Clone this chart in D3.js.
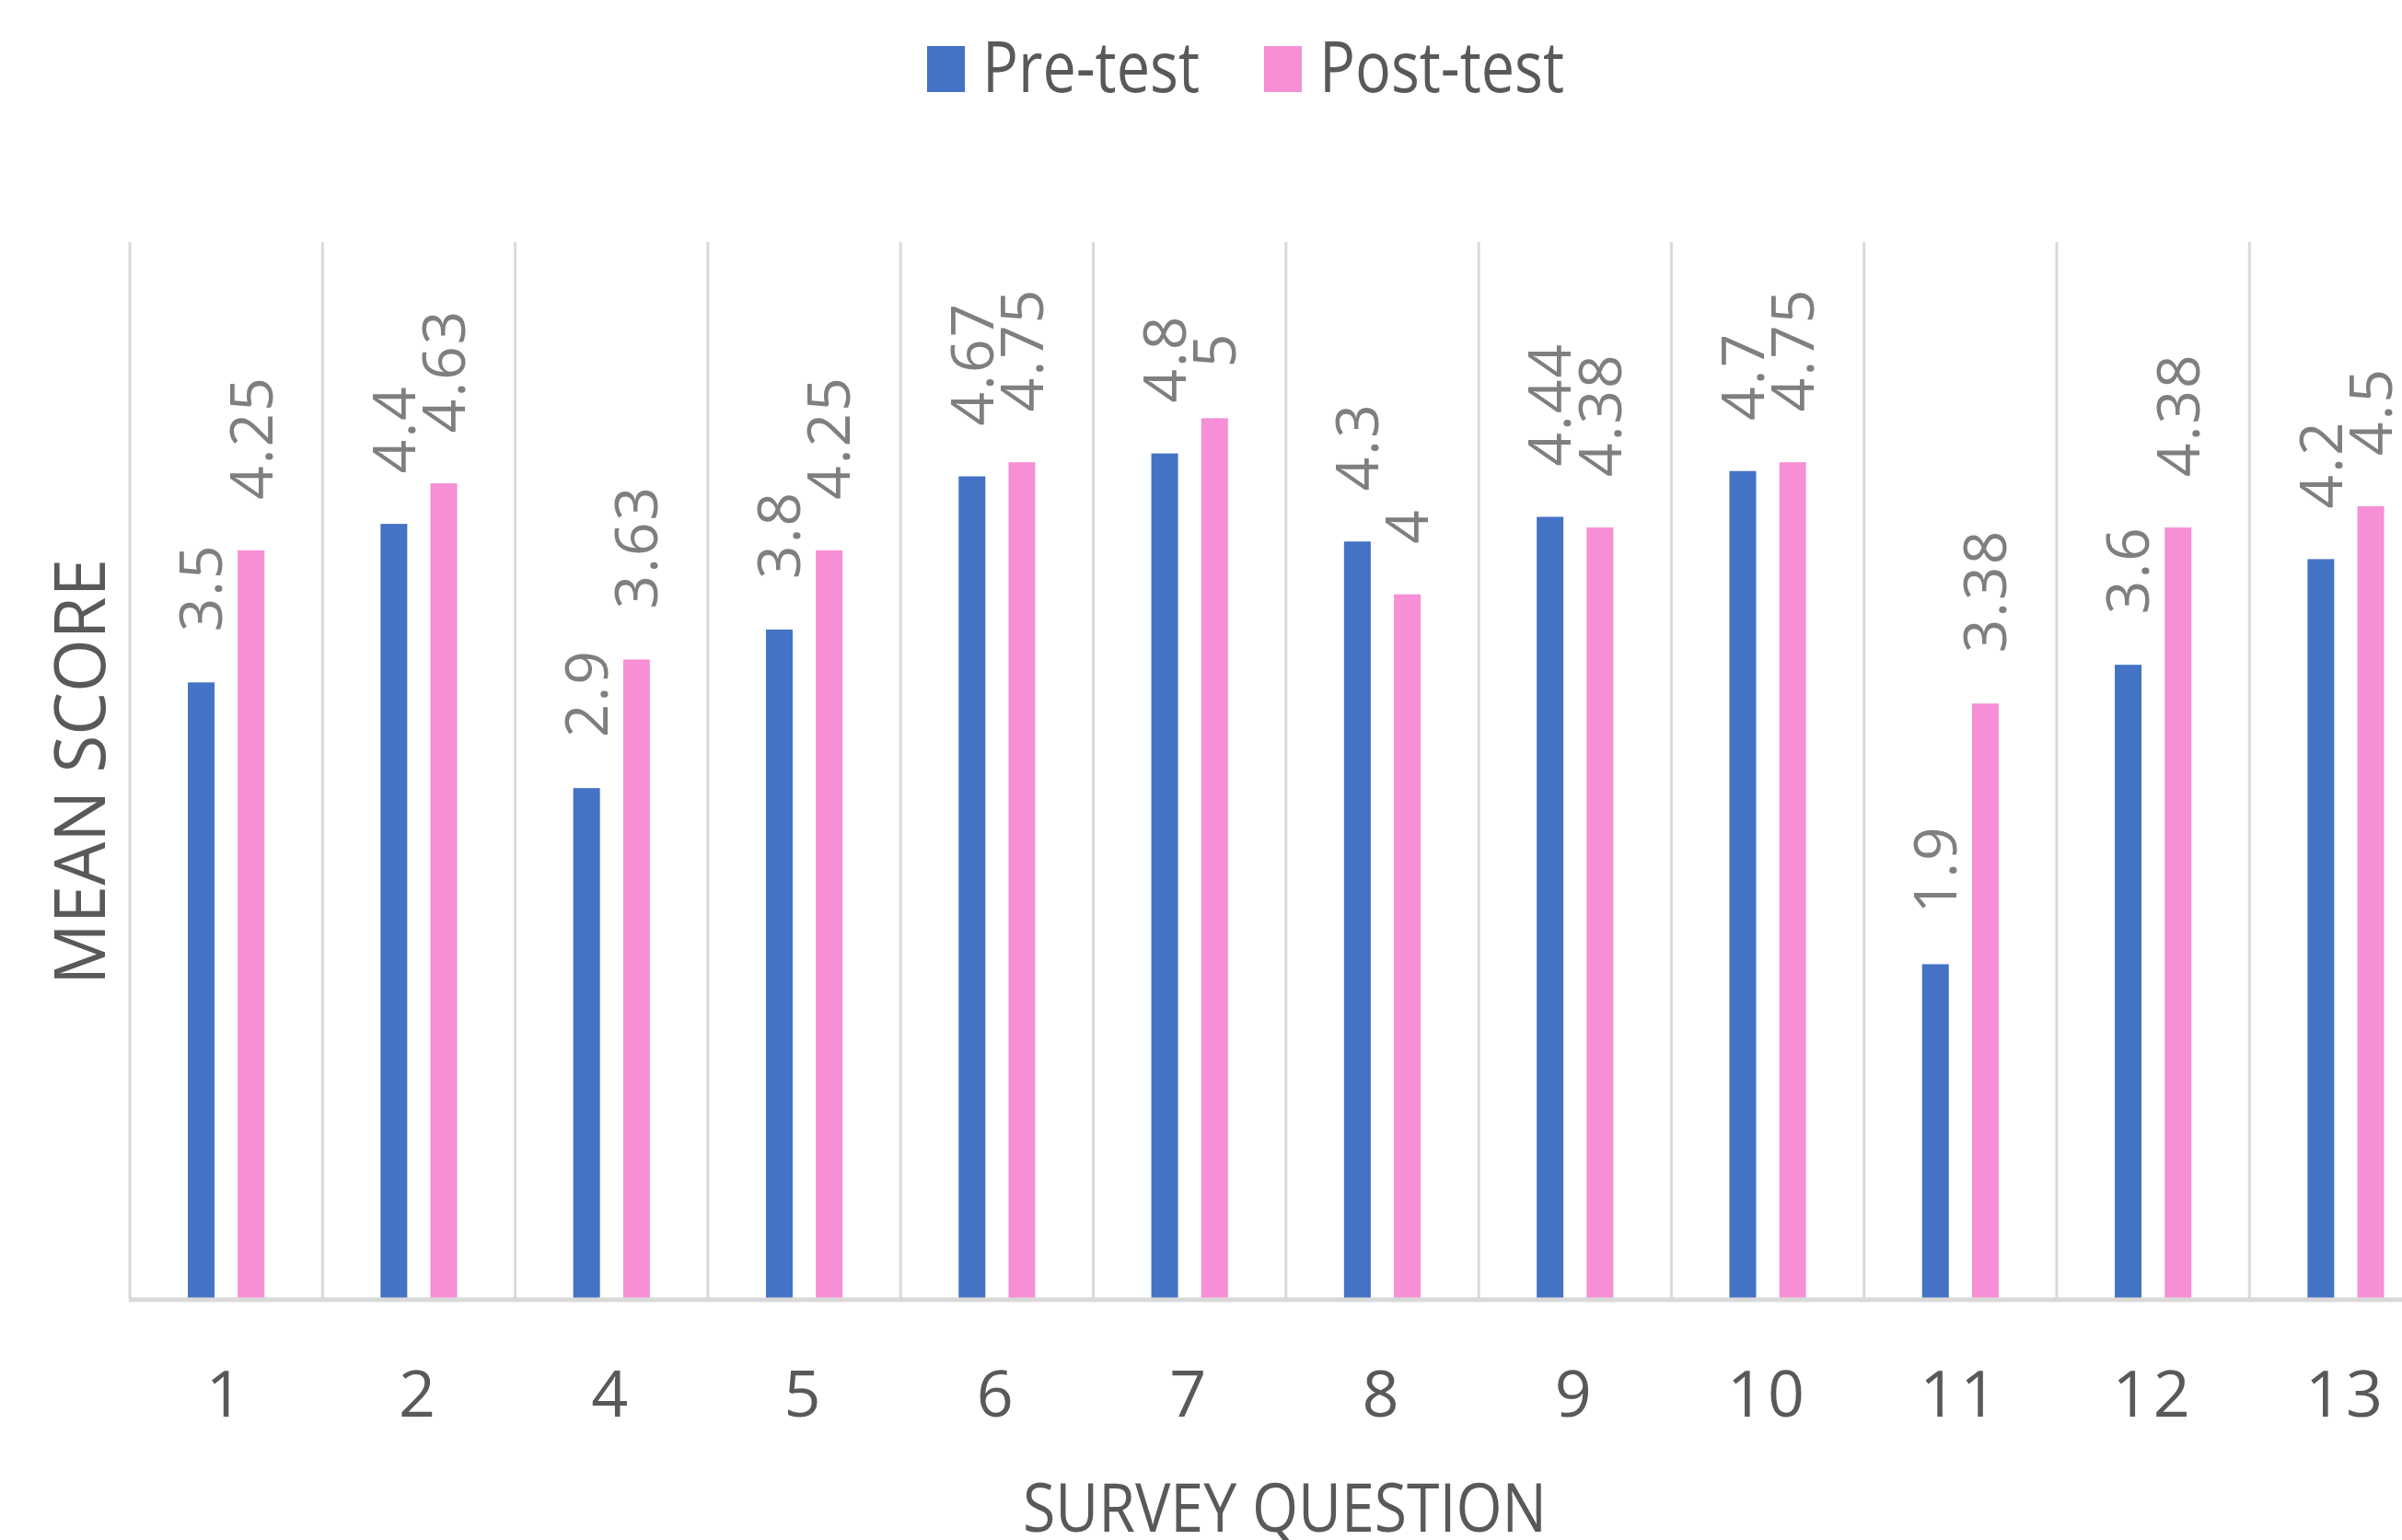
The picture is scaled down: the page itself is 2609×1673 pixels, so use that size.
<!DOCTYPE html>
<html>
<head>
<meta charset="utf-8">
<script src="https://cdn.jsdelivr.net/npm/d3@7"></script>
<style>
  html, body { margin: 0; padding: 0; background: #fff; }
  svg text { font-family: "Open Sans", "Noto Sans", sans-serif; }
</style>
</head>
<body>
<div id="chart"></div>
<script>
// Survey question mean scores, pre vs post
var questions = ["1", "2", "4", "5", "6", "7", "8", "9", "10", "11", "12", "13"];
var preScores = [3.5, 4.4, 2.9, 3.8, 4.67, 4.8, 4.3, 4.44, 4.7, 1.9, 3.6, 4.2];
var postScores = [4.25, 4.63, 3.63, 4.25, 4.75, 5, 4, 4.38, 4.75, 3.38, 4.38, 4.5];
var seriesNames = ["Pre-test", "Post-test"];
var seriesColors = ["#4472c4", "#f68fd5"];

var width = 2609, height = 1673;
var plot = {left: 141, top: 263, bottom: 1411, step: 209.3};

var svg = d3.select("#chart").append("svg")
    .attr("width", width)
    .attr("height", height);

var rows = questions.map(function(q, i) {
  return {q: q, values: [preScores[i], postScores[i]]};
});

// x: one band per question (last one runs past the right edge, like the source)
var x = d3.scaleBand()
    .domain(questions)
    .range([plot.left, plot.left + plot.step * questions.length])
    .padding(0);

var pi = 0.465;
var x1 = d3.scaleBand()
    .domain([0, 1])
    .range([x.bandwidth() / 2 - 54.2, x.bandwidth() / 2 + 54.2])
    .paddingInner(pi)
    .paddingOuter(pi / 2);

var y = d3.scaleLinear()
    .domain([0, 6])
    .range([plot.bottom, plot.top]);

// vertical gridlines between categories
var grid = d3.range(questions.length + 1).map(function(i) { return plot.left + i * x.step(); });
svg.append("g").selectAll("line")
  .data(grid)
  .join("line")
    .attr("x1", function(d) { return d; })
    .attr("x2", function(d) { return d; })
    .attr("y1", y(6))
    .attr("y2", y(0))
    .attr("stroke", "#d9d9d9")
    .attr("stroke-width", 3);

// bars
var groups = svg.append("g").selectAll("g")
  .data(rows)
  .join("g")
    .attr("transform", function(d) { return "translate(" + x(d.q) + ",0)"; });

groups.selectAll("rect")
  .data(function(d) { return d.values.map(function(v, k) { return {k: k, v: v}; }); })
  .join("rect")
    .attr("x", function(d) { return x1(d.k); })
    .attr("width", x1.bandwidth())
    .attr("y", function(d) { return y(d.v); })
    .attr("height", function(d) { return y(0) - y(d.v); })
    .attr("fill", function(d) { return seriesColors[d.k]; });

// data labels, rotated
var labelSize = 64;
groups.selectAll("text")
  .data(function(d) { return d.values.map(function(v, k) { return {k: k, v: v}; }); })
  .join("text")
    .attr("transform", function(d) {
      var cx = x1(d.k) + x1.bandwidth() / 2 + labelSize * 0.714 / 2;
      return "translate(" + cx + "," + (y(d.v) - 55) + ") rotate(-90)";
    })
    .attr("font-size", labelSize)
    .attr("letter-spacing", 2)
    .attr("fill", "#7f7f7f")
    .text(function(d) { return d.v; });

// baseline axis
svg.append("line")
    .attr("x1", plot.left - 1)
    .attr("x2", width)
    .attr("y1", y(0) + 1)
    .attr("y2", y(0) + 1)
    .attr("stroke", "#d9d9d9")
    .attr("stroke-width", 5);

// category tick labels
var xAxis = d3.axisBottom(x).tickSize(0).tickPadding(0);
var gx = svg.append("g")
    .attr("transform", "translate(0,1539)")
    .call(xAxis);
gx.select(".domain").remove();
gx.selectAll("text")
    .attr("dy", 0)
    .attr("font-size", 70)
    .attr("letter-spacing", 4)
    .attr("fill", "#595959")
    .style("font-family", "'Open Sans', sans-serif");

// axis titles
svg.append("text")
    .attr("x", 1111)
    .attr("y", 1664)
    .attr("font-size", 74)
    .attr("fill", "#595959")
    .attr("textLength", 569)
    .attr("lengthAdjust", "spacingAndGlyphs")
    .text("SURVEY QUESTION");

svg.append("text")
    .attr("transform", "translate(114,1070) rotate(-90)")
    .attr("font-size", 76)
    .attr("fill", "#595959")
    .attr("textLength", 463)
    .attr("lengthAdjust", "spacingAndGlyphs")
    .text("MEAN SCORE");

// legend
var legendX = [1007, 1373], legendTextX = [1067, 1433], legendW = [236, 266];
var legend = svg.append("g").selectAll("g")
  .data(seriesNames)
  .join("g");
legend.append("rect")
    .attr("x", function(d, i) { return legendX[i]; })
    .attr("y", 50)
    .attr("width", 41)
    .attr("height", 50)
    .attr("fill", function(d, i) { return seriesColors[i]; });
legend.append("text")
    .attr("x", function(d, i) { return legendTextX[i]; })
    .attr("y", 100)
    .attr("font-size", 76)
    .attr("fill", "#595959")
    .attr("textLength", function(d, i) { return legendW[i]; })
    .attr("lengthAdjust", "spacingAndGlyphs")
    .text(function(d) { return d; });
</script>
</body>
</html>
